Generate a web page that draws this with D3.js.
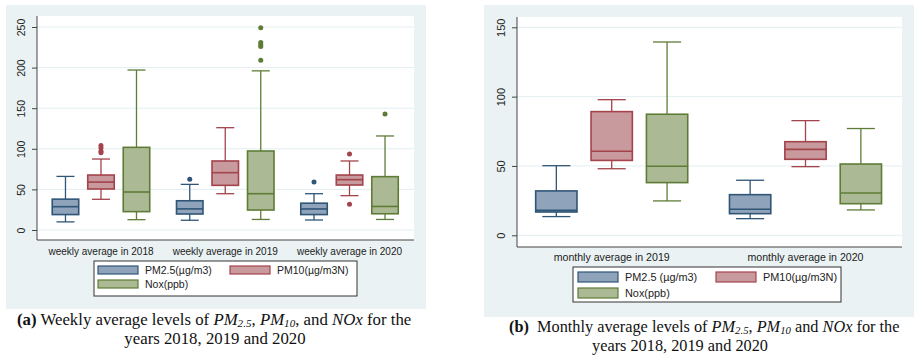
<!DOCTYPE html>
<html>
<head>
<meta charset="utf-8">
<script src="https://cdn.jsdelivr.net/npm/d3@7"></script>
<style>
  body { margin: 0; background: #fff; }
  svg { display: block; }
</style>
</head>
<body>
<div id="chart"></div>
<script>
// series shared by both panels
var seriesKeys = ["pm25", "pm10", "nox"];
var fills = ["#8fa3ba", "#c99a9d", "#abba94"];
var strokes = ["#2f5577", "#a3434b", "#5e7c36"];

// (a) weekly averages -- each box is [lower whisker, q1, median, q3, upper whisker]
var weeklyGroups = ["weekly average in 2018", "weekly average in 2019", "weekly average in 2020"];
var weeklyPM25 = [[10, 19, 28.7, 38, 66], [12, 19.7, 26, 36, 56.2], [12.3, 19, 25.9, 33, 44.7]];
var weeklyPM10 = [[37.8, 50.5, 59, 67.7, 87.4], [44.7, 55, 70.6, 85, 126], [42.3, 55.4, 62, 67.7, 85]];
var weeklyNox = [[12.7, 22.6, 46.8, 101.8, 197], [13, 24.6, 44.7, 97.3, 196], [13, 20, 29, 65.7, 115.8]];
var weeklyOutPM25 = [[], [62.4], [59]];
var weeklyOutPM10 = [[104, 101, 97, 95], [], [93.6, 31.6]];
var weeklyOutNox = [[], [249, 231, 228, 226, 209], [143]];
var weeklyTicks = [0, 50, 100, 150, 200, 250];
var weeklyLegend = ["PM2.5(\u00b5g/m3)", "PM10(\u00b5g/m3N)", "Nox(ppb)"];

// (b) monthly averages
var monthlyGroups = ["monthly average in 2019", "monthly average in 2020"];
var monthlyPM25 = [[13.5, 16.8, 18, 32, 50.2], [12, 15.6, 18.8, 29.3, 39.7]];
var monthlyPM10 = [[48, 54, 60.6, 89.2, 97.8], [49.5, 54.8, 62, 67.5, 82.7]];
var monthlyNox = [[24.8, 38, 49.8, 87.3, 139.4], [18.3, 22.8, 30.5, 51.4, 77]];
var monthlyOutPM25 = [[], []];
var monthlyOutPM10 = [[], []];
var monthlyOutNox = [[], []];
var monthlyTicks = [0, 50, 100, 150];
var monthlyLegend = ["PM2.5 (\u00b5g/m3)", "PM10(\u00b5g/m3N)", "Nox(ppb)"];

var svg = d3.select("#chart").append("svg")
    .attr("width", 920)
    .attr("height", 359);

drawPanel({
  groups: weeklyGroups,
  boxes: [weeklyPM25, weeklyPM10, weeklyNox],
  outliers: [weeklyOutPM25, weeklyOutPM10, weeklyOutNox],
  ticks: weeklyTicks,
  legend: weeklyLegend,
  bg: [6, 5, 426, 309],
  plot: [37, 16, 414, 240],
  band: [38.85, 411.65],
  yRange: [230, 27], yMax: 250,
  font: 10, tickFont: 10.5, labelY: 255,
  legendBox: [94, 261, 357, 296], legendCols: [98, 230], legendRows: [270, 284], swatch: [40, 8], legendFont: 10.5
});

drawPanel({
  groups: monthlyGroups,
  boxes: [monthlyPM25, monthlyPM10, monthlyNox],
  outliers: [monthlyOutPM25, monthlyOutPM10, monthlyOutNox],
  ticks: monthlyTicks,
  legend: monthlyLegend,
  bg: [484, 5, 914, 317],
  plot: [517, 17, 902, 247],
  band: [514.8, 902.4],
  yRange: [235.3, 27.3], yMax: 150,
  font: 10.6, tickFont: 11, labelY: 261,
  legendBox: [573, 267, 841, 302], legendCols: [578, 716], legendRows: [277, 293], swatch: [40, 10], legendFont: 10.9
});

function drawPanel(cfg) {
  var g = svg.append("g");

  g.append("rect")
      .attr("x", cfg.bg[0]).attr("y", cfg.bg[1])
      .attr("width", cfg.bg[2] - cfg.bg[0]).attr("height", cfg.bg[3] - cfg.bg[1])
      .attr("fill", "#eaf2f3");
  g.append("rect")
      .attr("x", cfg.plot[0]).attr("y", cfg.plot[1])
      .attr("width", cfg.plot[2] - cfg.plot[0]).attr("height", cfg.plot[3] - cfg.plot[1])
      .attr("fill", "#fff");

  var y = d3.scaleLinear().domain([0, cfg.yMax]).range(cfg.yRange);
  var x = d3.scaleBand().domain(cfg.groups).range(cfg.band);
  var xs = d3.scaleBand().domain(seriesKeys).range([0, x.bandwidth()])
      .paddingInner(0.254).paddingOuter(0.377);

  // gridlines
  g.selectAll(".grid").data(cfg.ticks).enter().append("line")
      .attr("x1", cfg.plot[0]).attr("x2", cfg.plot[2])
      .attr("y1", function (d) { return y(d); })
      .attr("y2", function (d) { return y(d); })
      .attr("stroke", "#e4eef0").attr("stroke-width", 1);

  // boxes
  seriesKeys.forEach(function (key, si) {
    cfg.groups.forEach(function (grp, gi) {
      var b = cfg.boxes[si][gi];
      var x0 = x(grp) + xs(key), w = xs.bandwidth(), cx = x0 + w / 2, cap = w * 0.34;
      var col = strokes[si];
      var bg = g.append("g").attr("stroke", col).attr("stroke-width", 1.3);
      // whiskers
      bg.append("line").attr("x1", cx).attr("x2", cx).attr("y1", y(b[3])).attr("y2", y(b[4]));
      bg.append("line").attr("x1", cx).attr("x2", cx).attr("y1", y(b[1])).attr("y2", y(b[0]));
      bg.append("line").attr("x1", cx - cap).attr("x2", cx + cap).attr("y1", y(b[4])).attr("y2", y(b[4]));
      bg.append("line").attr("x1", cx - cap).attr("x2", cx + cap).attr("y1", y(b[0])).attr("y2", y(b[0]));
      bg.append("rect")
          .attr("x", x0).attr("y", y(b[3]))
          .attr("width", w).attr("height", y(b[1]) - y(b[3]))
          .attr("fill", fills[si]).attr("stroke-width", 1.6);
      bg.append("line").attr("x1", x0).attr("x2", x0 + w).attr("y1", y(b[2])).attr("y2", y(b[2]))
          .attr("stroke-width", 1.6);
      // outside values
      g.selectAll(null).data(cfg.outliers[si][gi]).enter().append("circle")
          .attr("cx", cx).attr("cy", function (d) { return y(d); })
          .attr("r", 2.5).attr("fill", col);
    });
  });

  // y axis
  var yAxis = g.append("g")
      .attr("transform", "translate(" + cfg.plot[0] + ",0)")
      .call(d3.axisLeft(y).tickValues(cfg.ticks).tickSize(5).tickPadding(4));
  yAxis.select(".domain").attr("d", "M0," + cfg.plot[1] + "V" + cfg.plot[3]).attr("stroke", "#444");
  yAxis.selectAll(".tick line").attr("stroke", "#444");
  yAxis.selectAll(".tick text")
      .attr("transform", "rotate(-90)")
      .attr("x", 0).attr("y", -12).attr("dy", 0)
      .attr("text-anchor", "middle")
      .attr("fill", "#222")
      .style("font", cfg.tickFont + "px 'Liberation Sans', Arial, sans-serif");

  // x axis (line only) and group labels
  g.append("line")
      .attr("x1", cfg.plot[0]).attr("x2", cfg.plot[2])
      .attr("y1", cfg.plot[3]).attr("y2", cfg.plot[3])
      .attr("stroke", "#444");
  g.selectAll(".glab").data(cfg.groups).enter().append("text")
      .attr("x", function (d) { return x(d) + x.bandwidth() / 2; })
      .attr("y", cfg.labelY)
      .attr("text-anchor", "middle")
      .attr("fill", "#222")
      .style("font", cfg.font + "px 'Liberation Sans', Arial, sans-serif")
      .text(function (d) { return d; });

  // legend
  var lb = cfg.legendBox;
  g.append("rect")
      .attr("x", lb[0]).attr("y", lb[1])
      .attr("width", lb[2] - lb[0]).attr("height", lb[3] - lb[1])
      .attr("fill", "#fff").attr("stroke", "#333").attr("stroke-width", 1);
  cfg.legend.forEach(function (label, i) {
    var lx = cfg.legendCols[i % 2], ly = cfg.legendRows[Math.floor(i / 2)];
    g.append("rect")
        .attr("x", lx).attr("y", ly - cfg.swatch[1] / 2)
        .attr("width", cfg.swatch[0]).attr("height", cfg.swatch[1])
        .attr("fill", fills[i]).attr("stroke", strokes[i]).attr("stroke-width", 1.2);
    g.append("text")
        .attr("x", lx + cfg.swatch[0] + 7).attr("y", ly + 4)
        .attr("fill", "#222")
        .style("font", cfg.legendFont + "px 'Liberation Sans', Arial, sans-serif")
        .text(label);
  });
}

// captions
function caption(parts, x, y, size, anchor) {
  var t = svg.append("text")
      .attr("x", x).attr("y", y)
      .attr("text-anchor", anchor)
      .style("font-family", "'Liberation Serif', 'Times New Roman', serif")
      .style("font-size", size + "px")
      .attr("fill", "#111");
  parts.forEach(function (p) {
    var s = t.append("tspan").text(p[0]);
    if (p[1] === "b") s.attr("font-weight", "bold");
    if (p[1] === "i") s.attr("font-style", "italic");
    if (p[1] === "sub") s.attr("font-style", "italic").style("font-size", (size * 0.66) + "px").attr("dy", 2);
    if (p[1] === "up") s.attr("dy", -2);
  });
}

caption([["(a)", "b"], [" Weekly average levels of "], ["PM", "i"], ["2.5", "sub"], [",", "up"], [" "], ["PM", "i"],
  ["10", "sub"], [",", "up"], [" and "], ["NOx", "i"], [" for the"]], 17, 325, 16.8, "start");
caption([["years 2018, 2019 and 2020"]], 215, 344, 16.8, "middle");
caption([["(b)", "b"], ["\u00a0 Monthly average levels of "], ["PM", "i"], ["2.5", "sub"], [",", "up"], [" "], ["PM", "i"],
  ["10", "sub"], [" and ", "up"], ["NOx", "i"], [" for the"]], 509, 332, 16.3, "start");
caption([["years 2018, 2019 and 2020"]], 680, 351, 16.3, "middle");
</script>
</body>
</html>
